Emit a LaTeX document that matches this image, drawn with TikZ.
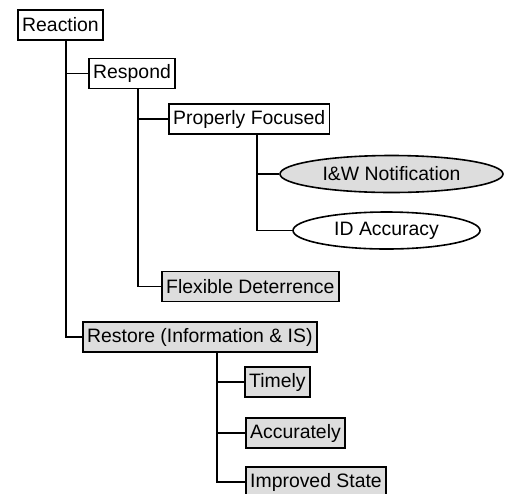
\documentclass[tikz,border=0pt]{standalone}
\usepackage{fontspec}
\setmainfont{Liberation Sans}
\usetikzlibrary{shapes.geometric}
\definecolor{boxGray}{RGB}{221, 221, 221}

\begin{document}
\begin{tikzpicture}[
    x=0.5pt, y=-0.5pt,
    font=\fontsize{9.7}{11}\selectfont,
    treebox/.style={
        rectangle, draw, line width=0.8pt, fill=white,
        minimum height=15pt, inner xsep=2.2pt, inner ysep=0pt, anchor=west
    },
    graybox/.style={treebox, fill=boxGray},
    treeoval/.style={ellipse, draw, line width=0.8pt, inner sep=0pt, minimum height=18.5pt},
    branch/.style={line width=0.8pt}
]
\useasboundingbox (0,0) rectangle (506,493);
\clip (0,0) rectangle (506,493);

\node[treebox]  (reaction) at (17,25)    {Reaction};
\node[treebox]  (respond)  at (88,73.5)  {Respond};
\node[treebox]  (focused)  at (168,119)  {Properly Focused};
\node[treeoval, fill=boxGray, minimum width=111.5pt] (notify) at (391.5,174) {I\&W Notification};
\node[treeoval, fill=white, minimum width=93.5pt]    (idacc)  at (386.5,230.5) {ID Accuracy};
\node[graybox]  (deter)    at (161,286.5) {Flexible Deterrence};
\node[graybox]  (restore)  at (82,337)   {Restore (Information \& IS)};
\node[graybox]  (timely)   at (244,382)  {Timely};
\node[graybox]  (accur)    at (245,433)  {Accurately};
\node[graybox]  (improved) at (245,482)  {Improved State};

% trunk positions
\coordinate (reactionT) at (66,0);
\coordinate (respondT)  at (138,0);
\coordinate (focusedT)  at (257,0);
\coordinate (restoreT)  at (217,0);

\draw[branch] (reaction.south -| reactionT) |- (respond.west);
\draw[branch] (reaction.south -| reactionT) |- (restore.west);
\draw[branch] (respond.south -| respondT) |- (focused.west);
\draw[branch] (respond.south -| respondT) |- (deter.west);
\draw[branch] (focused.south -| focusedT) |- (notify.west);
\draw[branch] (focused.south -| focusedT) |- (idacc.west);
\draw[branch] (restore.south -| restoreT) |- (timely.west);
\draw[branch] (restore.south -| restoreT) |- (accur.west);
\draw[branch] (restore.south -| restoreT) |- (improved.west);
\end{tikzpicture}
\end{document}
